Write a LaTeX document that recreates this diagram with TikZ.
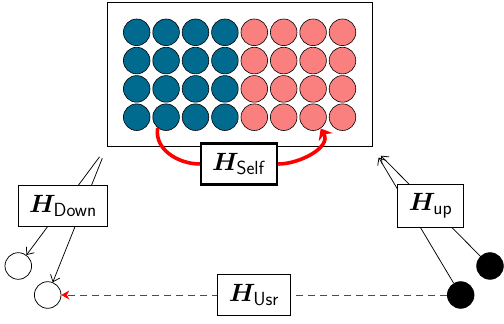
\RequirePackage{fix-cm}
\documentclass[tikz,border=0pt]{standalone}
\usepackage{amsmath,bm}
\usetikzlibrary{arrows.meta,fit,positioning}
\DeclareMathSizes{25}{25}{19}{14}
\tikzset{every picture/.style={line width=0.75pt}}
\definecolor{qblue}{RGB}{0,106,143}
\definecolor{qpink}{RGB}{250,128,128}
\tikzset{
  qubit/.style={draw, circle, minimum size=26.6pt, inner sep=0pt, line width=0.6pt},
  party/.style={draw, circle, minimum size=26.6pt, inner sep=0pt},
  hbox/.style={draw, fill=white, inner xsep=11pt, inner ysep=9.5pt, font=\fontsize{25}{30}\selectfont},
  link/.style={-{Straight Barb[length=6pt,width=10pt]}},
}
\newcommand{\ham}[1]{$\bm{H}_{\mathsf{#1}}$}

\begin{document}
\begin{tikzpicture}[x=1pt,y=1pt]
    \useasboundingbox (0,0) rectangle (504,324);
    % register
    \foreach \r in {1,...,4} {
        \foreach \c in {1,...,4}
            \node[qubit, fill=qblue] (c-\r-\c) at ({107.3+29.4*\c},{320-28.3*\r}) {};
        \foreach \c in {5,...,8}
            \node[qubit, fill=qpink] (c-\r-\c) at ({107.3+29.4*\c},{320-28.3*\r}) {};
    }
    \node[draw, fit=(c-1-1)(c-4-8), inner sep=16pt] (reg) {};
    % outside parties
    \node[party] (w1) at (18.3,58) {};
    \node[party] (w2) at (47.7,29) {};
    \node[party, fill=black] (b1) at (490,58) {};
    \node[party, fill=black] (b2) at (460.7,29) {};
    \draw[link, shorten <=12pt] (reg.south west) -- (w1);
    \draw[link, shorten <=12pt] (reg.south west) -- (w2);
    \draw[link, shorten >=12pt] (b1) -- (reg.south east);
    \draw[link, shorten >=12pt] (b2) -- (reg.south east);
    \draw[red, dash pattern=on 7pt off 5pt, -{Stealth[length=8pt,width=9pt]}] (b2) -- (w2);
    % Hamiltonians
    \node[hbox] (down) at (63,118) {\ham{Down}};
    \node[hbox] (up) at (430.5,118) {\ham{up}};
    \node[hbox] (usr) at (254,29) {\ham{Usr}};
    \node[hbox, line width=2.6pt] (self) at (239,160) {\ham{Self}};
    \draw[red, line width=3.6pt] (c-4-2.232) to[out=-100, in=180] (self.west);
    \draw[red, line width=3.6pt, -{Stealth[length=10pt,width=16pt]}] (self.east) to[out=0, in=-60] (c-4-7.-56);
\end{tikzpicture}
\end{document}
